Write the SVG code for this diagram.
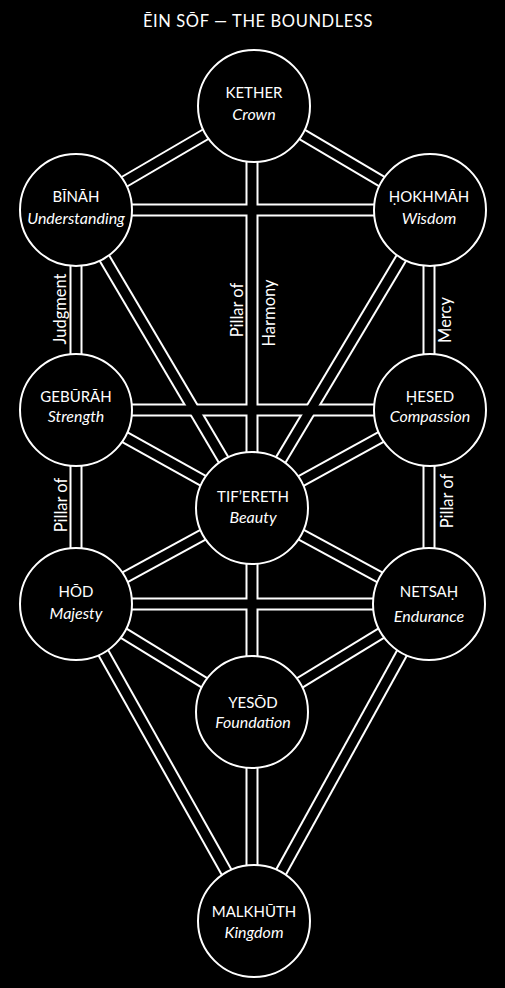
<svg xmlns="http://www.w3.org/2000/svg" width="505" height="988" viewBox="0 0 505 988">
<style>
.bg{fill:#000}
.band-o{stroke:#fff;stroke-width:13;fill:none;stroke-linecap:butt}
.band-i{stroke:#000;stroke-width:9;fill:none;stroke-linecap:butt}
.node circle{fill:#000;stroke:#fff;stroke-width:2}
.t{fill:#fff;font-family:Lato,"Open Sans","Liberation Sans",sans-serif;text-anchor:middle}
.name{font-size:15px}
.sub{font-size:16px;font-style:italic}
.title{font-size:16.5px;letter-spacing:0.6px}
.lab{font-size:16.5px}
</style>
<defs>
<g id="paths">
<line x1="254" y1="106" x2="76" y2="210"/>
<line x1="254" y1="106" x2="430" y2="210"/>
<line x1="252" y1="106" x2="252" y2="508"/>
<line x1="76" y1="210" x2="430" y2="210"/>
<line x1="76" y1="210" x2="76" y2="410"/>
<line x1="76" y1="210" x2="252" y2="508"/>
<line x1="429" y1="210" x2="429" y2="410"/>
<line x1="430" y1="210" x2="252" y2="508"/>
<line x1="76" y1="410" x2="430" y2="410"/>
<line x1="76" y1="410" x2="252" y2="508"/>
<line x1="430" y1="410" x2="252" y2="508"/>
<line x1="76" y1="410" x2="76" y2="604"/>
<line x1="429" y1="410" x2="429" y2="604"/>
<line x1="252" y1="508" x2="76" y2="604"/>
<line x1="252" y1="508" x2="429" y2="604"/>
<line x1="76" y1="604" x2="429" y2="604"/>
<line x1="252" y1="508" x2="252" y2="921"/>
<line x1="76" y1="604" x2="252" y2="712"/>
<line x1="429" y1="604" x2="252" y2="712"/>
<line x1="76" y1="604" x2="254" y2="921"/>
<line x1="429" y1="604" x2="254" y2="921"/>
</g>
</defs>
<rect class="bg" x="0" y="0" width="505" height="988"/>
<text class="t title" x="258" y="27">ĒIN SŌF — THE BOUNDLESS</text>
<g id="connectors">
<use href="#paths" class="band-o"/>
<use href="#paths" class="band-i"/>
</g>
<g id="labels">
<text class="t lab" transform="translate(66,309) rotate(-90)">Judgment</text>
<text class="t lab" transform="translate(243,310) rotate(-90)">Pillar of</text>
<text class="t lab" transform="translate(275,313) rotate(-90)">Harmony</text>
<text class="t lab" transform="translate(451,320) rotate(-90)">Mercy</text>
<text class="t lab" transform="translate(67,505) rotate(-90)">Pillar of</text>
<text class="t lab" transform="translate(453,501) rotate(-90)">Pillar of</text>
</g>
<g id="kether" class="node"><circle cx="254" cy="106" r="56"/><text class="t name" x="254" y="98">KETHER</text><text class="t sub" x="254" y="120">Crown</text></g>
<g id="binah" class="node"><circle cx="76" cy="210" r="56"/><text class="t name" x="76" y="202">BĪNĀH</text><text class="t sub" x="76" y="224">Understanding</text></g>
<g id="hokhmah" class="node"><circle cx="430" cy="210" r="56"/><text class="t name" x="429" y="202">ḤOKHMĀH</text><text class="t sub" x="429" y="224">Wisdom</text></g>
<g id="geburah" class="node"><circle cx="76" cy="410" r="56"/><text class="t name" x="76" y="402">GEBŪRĀH</text><text class="t sub" x="76" y="422">Strength</text></g>
<g id="hesed" class="node"><circle cx="430" cy="410" r="56"/><text class="t name" x="430" y="402">ḤESED</text><text class="t sub" x="430" y="422">Compassion</text></g>
<g id="tiferet" class="node"><circle cx="252" cy="508" r="56"/><text class="t name" x="253" y="502">TIF’ERETH</text><text class="t sub" x="253" y="523">Beauty</text></g>
<g id="hod" class="node"><circle cx="76" cy="604" r="56"/><text class="t name" x="76" y="597">HŌD</text><text class="t sub" x="76" y="619">Majesty</text></g>
<g id="netsah" class="node"><circle cx="429" cy="604" r="56"/><text class="t name" x="429" y="597">NETSAḤ</text><text class="t sub" x="429" y="622">Endurance</text></g>
<g id="yesod" class="node"><circle cx="252" cy="712" r="56"/><text class="t name" x="253" y="708">YESŌD</text><text class="t sub" x="253" y="728">Foundation</text></g>
<g id="malkhut" class="node"><circle cx="254" cy="921" r="56"/><text class="t name" x="254" y="917">MALKHŪTH</text><text class="t sub" x="254" y="938">Kingdom</text></g>
</svg>
